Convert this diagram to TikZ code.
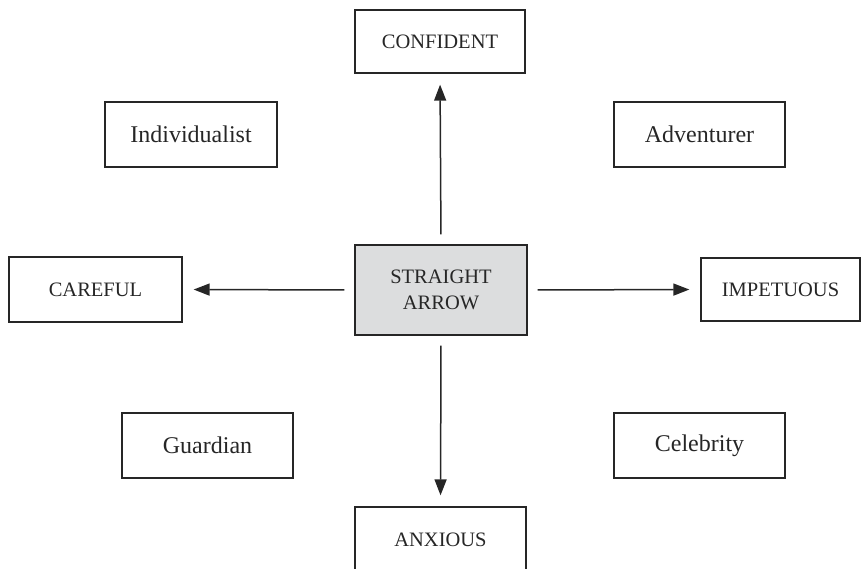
\documentclass[tikz,border=0pt]{standalone}
\usepackage{fontspec}
\setmainfont{Liberation Serif}
\usetikzlibrary{arrows.meta}
\definecolor{ink}{HTML}{262626}
\definecolor{boxgray}{HTML}{DCDDDE}
\tikzset{
  x=1pt, y=-1pt,
  box/.style={draw=ink, line width=1.3pt, text=ink, minimum height=65pt, inner sep=0pt, align=center},
  capsbox/.style={box, font=\fontsize{20.5}{24}\selectfont},
  wordbox/.style={box, font=\fontsize{24}{28}\selectfont},
  conn/.style={draw=ink, line width=1.5pt, -{Triangle[length=16pt,width=12pt]}, shorten <=10pt, shorten >=11pt}
}
\begin{document}
\begin{tikzpicture}
\clip (0,0) rectangle (864,569);
\useasboundingbox (0,0) rectangle (864,569);
\node[capsbox, minimum width=170pt, minimum height=63pt] (conf) at (440,41.5) {CONFIDENT};
\node[wordbox, minimum width=172pt] (indiv) at (191,134.5) {Individualist};
\node[wordbox, minimum width=171pt] (adv) at (699.5,134.5) {Adventurer};
\node[capsbox, minimum width=173pt] (care) at (95.5,289.5) {CAREFUL};
\node[capsbox, minimum width=172pt, minimum height=90pt, fill=boxgray] (sa) at (441,290) {STRAIGHT\\[2pt]ARROW};
\node[capsbox, minimum width=159pt, minimum height=63pt] (imp) at (780.5,289.5) {IMPETUOUS};
\node[wordbox, minimum width=171pt] (guard) at (207.5,445.5) {Guardian};
\node[wordbox, minimum width=171pt] (celeb) at (699.5,445.5) {Celebrity};
\node[capsbox, minimum width=171pt] (anx) at (440.5,539.5) {ANXIOUS};
\draw[conn] (sa.north) -- (conf.south);
\draw[conn] (sa.west) -- (care.east);
\draw[conn] (sa.east) -- (imp.west);
\draw[conn] (sa.south) -- (anx.north);
\end{tikzpicture}
\end{document}
